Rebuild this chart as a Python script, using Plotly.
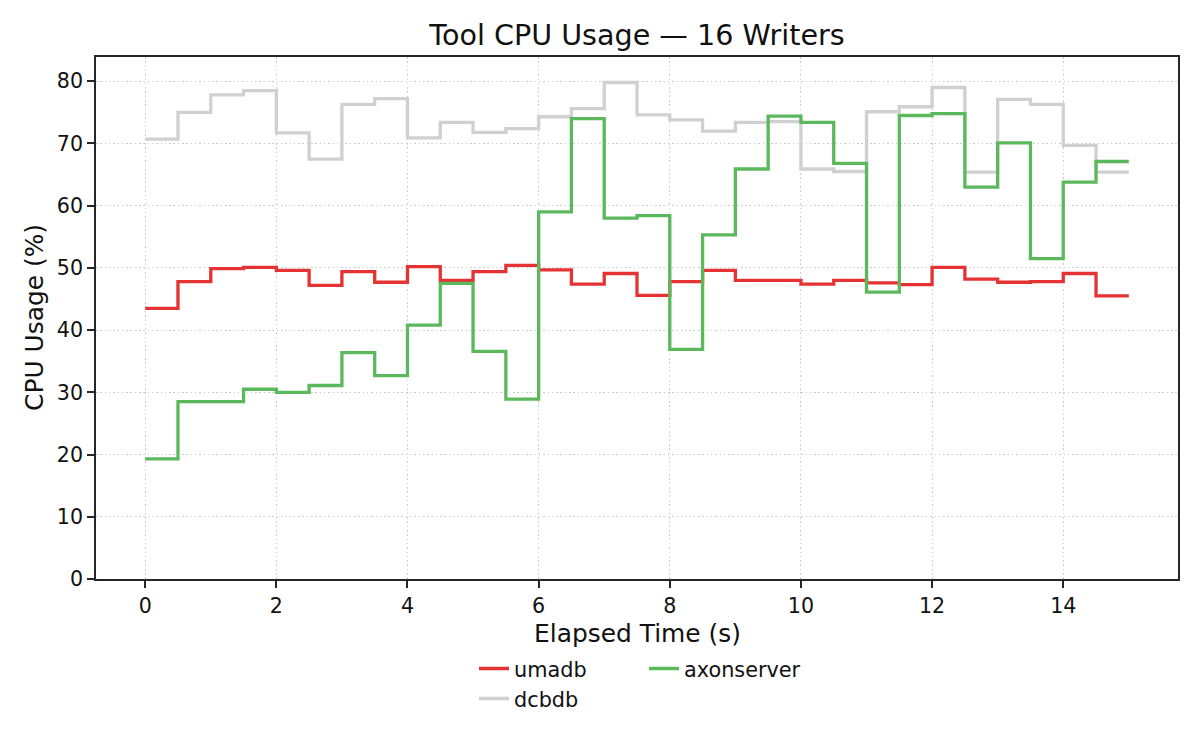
import plotly.graph_objects as go

# ---- data ----
time_s = [i * 0.5 for i in range(31)]

umadb = [43.5, 47.8, 49.9, 50.1, 49.6, 47.2, 49.4, 47.7, 50.2, 48.0,
         49.4, 50.4, 49.7, 47.4, 49.1, 45.6, 47.8, 49.6, 48.0, 48.0,
         47.4, 48.0, 47.6, 47.3, 50.1, 48.2, 47.7, 47.8, 49.1, 45.5, 45.5]

dcbdb = [70.7, 75.0, 77.8, 78.5, 71.7, 67.5, 76.3, 77.2, 70.9, 73.4,
         71.8, 72.4, 74.3, 75.6, 79.8, 74.6, 73.8, 72.0, 73.4, 73.5,
         65.9, 65.5, 75.1, 75.9, 79.0, 65.4, 77.1, 76.3, 69.7, 65.4, 65.4]

axonserver = [19.3, 28.5, 28.5, 30.5, 30.0, 31.1, 36.4, 32.7, 40.8, 47.5,
              36.6, 28.9, 59.0, 74.0, 58.0, 58.4, 36.9, 55.3, 65.9, 74.4,
              73.4, 66.8, 46.1, 74.5, 74.8, 63.0, 70.1, 51.5, 63.8, 67.1, 67.1]

x_ticks = [0, 2, 4, 6, 8, 10, 12, 14]
y_ticks = [0, 10, 20, 30, 40, 50, 60, 70, 80]

title_text = "Tool CPU Usage — 16 Writers"
x_label = "Elapsed Time (s)"
y_label = "CPU Usage (%)"

FONT = "DejaVu Sans"
RED = "#e53333"
GRAY = "#d0d0d0"
GREEN = "#5cb85c"
LW = 3.3

fig = go.Figure()
fig.add_trace(go.Scatter(x=time_s, y=umadb, name="umadb", mode="lines",
                         line=dict(color=RED, width=LW, shape="hv"), legend="legend"))
fig.add_trace(go.Scatter(x=time_s, y=dcbdb, name="dcbdb", mode="lines",
                         line=dict(color=GRAY, width=LW, shape="hv"), legend="legend2"))
fig.add_trace(go.Scatter(x=time_s, y=axonserver, name="axonserver", mode="lines",
                         line=dict(color=GREEN, width=LW, shape="hv"), legend="legend"))

# page body adds an 8px offset; compensate so the picture lines up
OFF = 8
L, T = 96 - OFF, 57 - OFF
R = 1200 - (1178 - OFF)
B = 750 - (579 - OFF)
plot_h = 750 - T - B
plot_w = 1200 - L - R


def px_x(px):
    return (px - OFF - L) / plot_w


def px_y(py):
    return (750 - B - (py - OFF)) / plot_h


axis_common = dict(
    showline=True, linecolor="#262626", linewidth=1.6, mirror=True,
    ticks="outside", ticklen=7, tickwidth=1.6, tickcolor="#262626",
    showgrid=True, gridcolor="#cccccc", gridwidth=1.3, griddash="1.5px,2.8px",
    zeroline=False, tickfont=dict(family=FONT, size=20.6, color="#111111"),
)

fig.update_layout(
    width=1200, height=750,
    margin=dict(l=L, r=R, t=T, b=B),
    paper_bgcolor="white", plot_bgcolor="white",
    font=dict(family=FONT, color="#111111"),
    title=dict(text=title_text, x=0.5, xref="paper", y=1 - (35 - OFF) / 750, yref="container",
               xanchor="center", yanchor="middle",
               font=dict(family=FONT, size=28.6, color="#111111")),
    xaxis=dict(range=[-0.75, 15.75], tickmode="array", tickvals=x_ticks, **axis_common),
    yaxis=dict(range=[0, 83.9], tickmode="array", tickvals=y_ticks, **axis_common),
    showlegend=True,
    legend=dict(orientation="h", x=px_x(474), xanchor="left",
                y=px_y(669), yanchor="middle",
                entrywidth=125, entrywidthmode="pixels",
                font=dict(family=FONT, size=20.8, color="#111111"),
                bgcolor="rgba(0,0,0,0)", tracegroupgap=0),
    legend2=dict(orientation="h", x=px_x(474), xanchor="left",
                 y=px_y(699), yanchor="middle",
                 font=dict(family=FONT, size=20.8, color="#111111"),
                 bgcolor="rgba(0,0,0,0)"),
    annotations=[
        dict(text=x_label, xref="paper", yref="paper", x=0.5, y=px_y(633),
             xanchor="center", yanchor="middle", showarrow=False,
             font=dict(family=FONT, size=24.9, color="#111111")),
        dict(text=y_label, xref="paper", yref="paper", x=px_x(34), y=0.5,
             xanchor="center", yanchor="middle", showarrow=False, textangle=-90,
             font=dict(family=FONT, size=24.9, color="#111111")),
    ],
)

fig.write_html("out.html")
